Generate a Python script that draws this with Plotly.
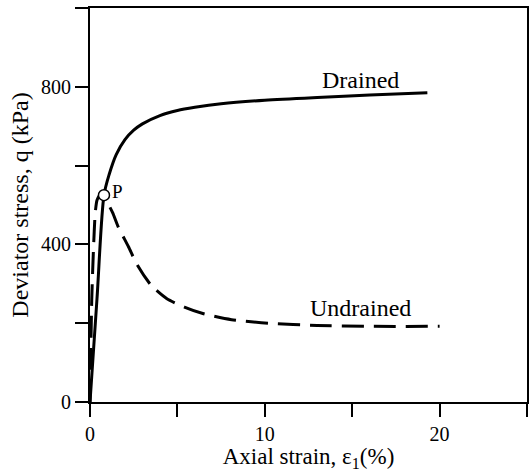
import plotly.graph_objects as go

# Drained curve (axial strain %, deviator stress kPa)
drained_strain = [0, 0.4, 0.8, 1.1, 1.5, 2.0, 2.5, 3.0, 4.0, 5.0, 6.0, 7.5, 10, 13, 16, 19.3]
drained_q = [0, 262, 525, 578, 628, 666, 690, 706, 727, 740, 748, 757, 766, 773, 779, 785]

# Undrained curve
undrained_strain = [0, 0.1, 0.2, 0.3, 0.4, 0.55, 0.8, 1.0, 1.3, 1.6, 2.2, 2.7, 3.5, 4.4, 5.4, 6.5, 8.1, 10.2, 13, 16, 20]
undrained_q = [0, 260, 390, 480, 512, 524, 520, 506, 480, 446, 394, 348, 296, 262, 241, 224, 209, 200, 194, 192, 192]

# Point P
p_strain = [0.8]
p_q = [525]

FONT = "Liberation Serif"

fig = go.Figure()
fig.add_trace(go.Scatter(x=drained_strain, y=drained_q, mode="lines",
                         line=dict(color="black", width=3, shape="spline", smoothing=0.8),
                         showlegend=False))
fig.add_trace(go.Scatter(x=undrained_strain, y=undrained_q, mode="lines",
                         line=dict(color="black", width=3, dash="22px,10px", shape="spline", smoothing=0.6),
                         showlegend=False))
fig.add_trace(go.Scatter(x=p_strain, y=p_q, mode="markers",
                         marker=dict(symbol="circle", size=11, color="white",
                                     line=dict(color="black", width=1.5)),
                         showlegend=False))

fig.add_annotation(x=15.5, y=817, text="Drained", showarrow=False,
                   font=dict(family=FONT, size=24, color="black"))
fig.add_annotation(x=15.5, y=239, text="Undrained", showarrow=False,
                   font=dict(family=FONT, size=24, color="black"))
fig.add_annotation(x=1.55, y=535, text="P", showarrow=False,
                   font=dict(family=FONT, size=19, color="black"))

axis_common = dict(showgrid=False, zeroline=False, showline=True, linecolor="black",
                   linewidth=2, mirror=True, ticks="outside", ticklen=13, tickwidth=1.5,
                   tickcolor="black", tickfont=dict(family=FONT, size=20, color="black"))

fig.update_xaxes(range=[0, 25], tickmode="linear", tick0=0, dtick=10,
                 minor=dict(ticks="outside", ticklen=13, tickwidth=1.5, tickcolor="black",
                            tick0=0, dtick=5, showgrid=False),
                 title=dict(text="Axial strain, ε<sub>1</sub>(%)",
                            font=dict(family=FONT, size=23, color="black"), standoff=8),
                 **axis_common)
fig.update_yaxes(range=[0, 1000], tickmode="linear", tick0=0, dtick=400,
                 minor=dict(ticks="outside", ticklen=13, tickwidth=1.5, tickcolor="black",
                            tick0=0, dtick=200, showgrid=False),
                 title=dict(text="Deviator stress, q (kPa)",
                            font=dict(family=FONT, size=24, color="black"), standoff=6),
                 **axis_common)

fig.update_layout(width=530, height=472, margin=dict(l=90, r=1, t=8, b=70),
                  plot_bgcolor="white", paper_bgcolor="white",
                  font=dict(family=FONT, color="black"))

fig.write_html("out.html")
